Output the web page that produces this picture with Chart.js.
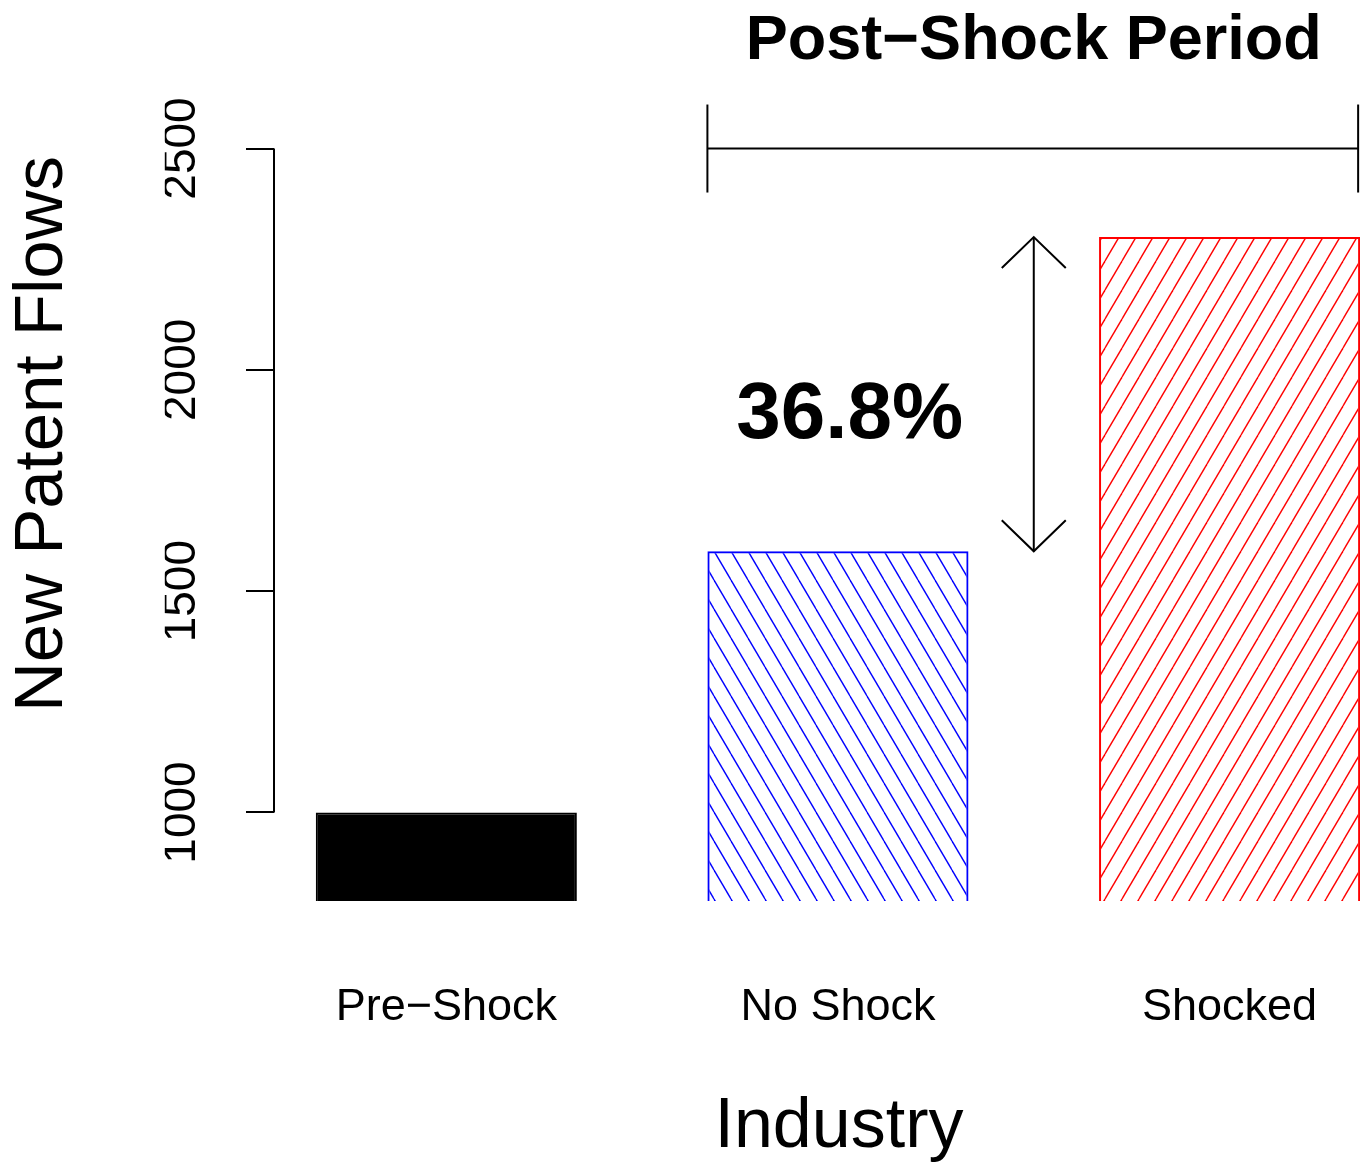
<!DOCTYPE html>
<html>
<head>
<meta charset="utf-8">
<script src="https://cdn.jsdelivr.net/npm/chart.js@4"></script>
<style>
  html, body { margin: 0; padding: 0; background: #fff; overflow: hidden; }
  #wrap { width: 1360px; height: 1165px; }
</style>
</head>
<body>
<div id="wrap"><canvas id="patentChart"></canvas></div>
<script>
// data
const categories = ['Pre\u2212Shock', 'No Shock', 'Shocked'];
const patentFlows = [1000, 1590, 2300];
const yTicks = [1000, 1500, 2000, 2500];
const xTitle = 'Industry';
const yTitle = 'New Patent Flows';
const periodTitle = 'Post\u2212Shock Period';
const changeLabel = '36.8%';
const changeLabelAt = [1.03, 1895];

const FONT = "'Liberation Sans', Arial, Helvetica, sans-serif";
Chart.defaults.font.family = FONT;
Chart.defaults.color = '#000';

// diagonal hatching like R's density/angle fill
function hatch(color, rising) {
    const c = document.createElement('canvas');
    c.width = 17;
    c.height = 29;
    const g = c.getContext('2d');
    g.strokeStyle = color;
    g.lineWidth = 1.4;
    for (const dx of [-17, 0, 17]) {
        g.beginPath();
        if (rising) {
            g.moveTo(dx, 29);
            g.lineTo(dx + 17, 0);
        } else {
            g.moveTo(dx, 0);
            g.lineTo(dx + 17, 29);
        }
        g.stroke();
    }
    return g.createPattern(c, 'repeat');
}

function line(ctx, x0, y0, x1, y1) {
    ctx.beginPath();
    ctx.moveTo(x0, y0);
    ctx.lineTo(x1, y1);
    ctx.stroke();
}

const annotations = {
    id: 'annotations',
    afterDatasetsDraw(chart) {
        const { ctx, chartArea, scales: { x, y } } = chart;
        const bars = chart.getDatasetMeta(0).data;
        ctx.save();
        ctx.strokeStyle = '#000';
        ctx.lineWidth = 2;

        // y axis line, first to last tick only
        line(ctx, chartArea.left, y.getPixelForValue(yTicks[0]),
             chartArea.left, y.getPixelForValue(yTicks[yTicks.length - 1]));

        // post-shock bracket
        const by = y.getPixelForValue(yTicks[yTicks.length - 1]);
        const bx0 = bars[1].x - bars[1].width / 2;
        const bx1 = bars[2].x + bars[2].width / 2 - 2;
        line(ctx, bx0, by, bx1, by);
        line(ctx, bx0, by - 44, bx0, by + 44);
        line(ctx, bx1, by - 44, bx1, by + 44);

        // double arrow between the two post-shock bars
        const ax = (bars[1].x + bars[1].width / 2 + bars[2].x - bars[2].width / 2) / 2;
        const top = bars[2].y, bot = bars[1].y;
        line(ctx, ax, top, ax, bot);
        ctx.beginPath();
        ctx.moveTo(ax - 32, top + 31);
        ctx.lineTo(ax, top);
        ctx.lineTo(ax + 32, top + 31);
        ctx.moveTo(ax - 32, bot - 31);
        ctx.lineTo(ax, bot);
        ctx.lineTo(ax + 32, bot - 31);
        ctx.stroke();

        // texts
        ctx.fillStyle = '#000';
        ctx.textAlign = 'center';
        ctx.textBaseline = 'middle';
        ctx.font = 'bold 80px ' + FONT;
        ctx.fillText(changeLabel, x.getPixelForValue(changeLabelAt[0]), y.getPixelForValue(changeLabelAt[1]));
        ctx.font = 'bold 63px ' + FONT;
        ctx.fillText(periodTitle, ax, chartArea.top - 18);

        // axis titles, centred on R's (wider) plot region
        ctx.font = '70px ' + FONT;
        ctx.fillText(xTitle, bars[1].x + 1, chart.height - 37);
        ctx.translate(43, 434);
        ctx.rotate(-Math.PI / 2);
        ctx.font = '69px ' + FONT;
        ctx.fillText(yTitle, 0, 0);
        ctx.restore();
    }
};

new Chart(document.getElementById('patentChart'), {
    type: 'bar',
    data: {
        datasets: [{
            data: patentFlows.map((v, i) => ({ x: i, y: v })),
            backgroundColor: ['#000000', hatch('#0000ff', false), hatch('#ff0000', true)],
            borderColor: ['#000000', '#0000ff', '#ff0000'],
            borderWidth: 2,
            borderSkipped: 'bottom',
            categoryPercentage: 1,
            barPercentage: 2 / 3
        }]
    },
    options: {
        responsive: true,
        maintainAspectRatio: false,
        animation: false,
        layout: { padding: { top: 60, left: 164.8, right: 0, bottom: 50 } },
        plugins: {
            legend: { display: false },
            tooltip: { enabled: false }
        },
        scales: {
            x: {
                type: 'linear',
                offset: false,
                min: -0.44,
                max: 2.333,
                afterBuildTicks: s => { s.ticks = categories.map((c, i) => ({ value: i })); },
                // the plot runs off the right edge, as in the original
                afterFit: s => { s.paddingLeft = 0; s.paddingRight = 0; },
                ticks: {
                    autoSkip: false,
                    maxRotation: 0,
                    padding: 80,
                    font: { size: 45 },
                    callback: v => categories[v]
                },
                grid: { display: false, drawTicks: false, offset: false },
                border: { display: false }
            },
            y: {
                min: 800,
                max: 2700,
                afterBuildTicks: s => { s.ticks = yTicks.map(v => ({ value: v })); },
                ticks: {
                    minRotation: 90,
                    maxRotation: 90,
                    crossAlign: 'center',
                    padding: 13,
                    font: { size: 46 },
                    callback: v => String(v)
                },
                grid: {
                    drawOnChartArea: false,
                    drawTicks: true,
                    tickLength: 28,
                    color: '#000',
                    lineWidth: 2
                },
                border: { display: false }
            }
        }
    },
    plugins: [annotations]
});
</script>
</body>
</html>
